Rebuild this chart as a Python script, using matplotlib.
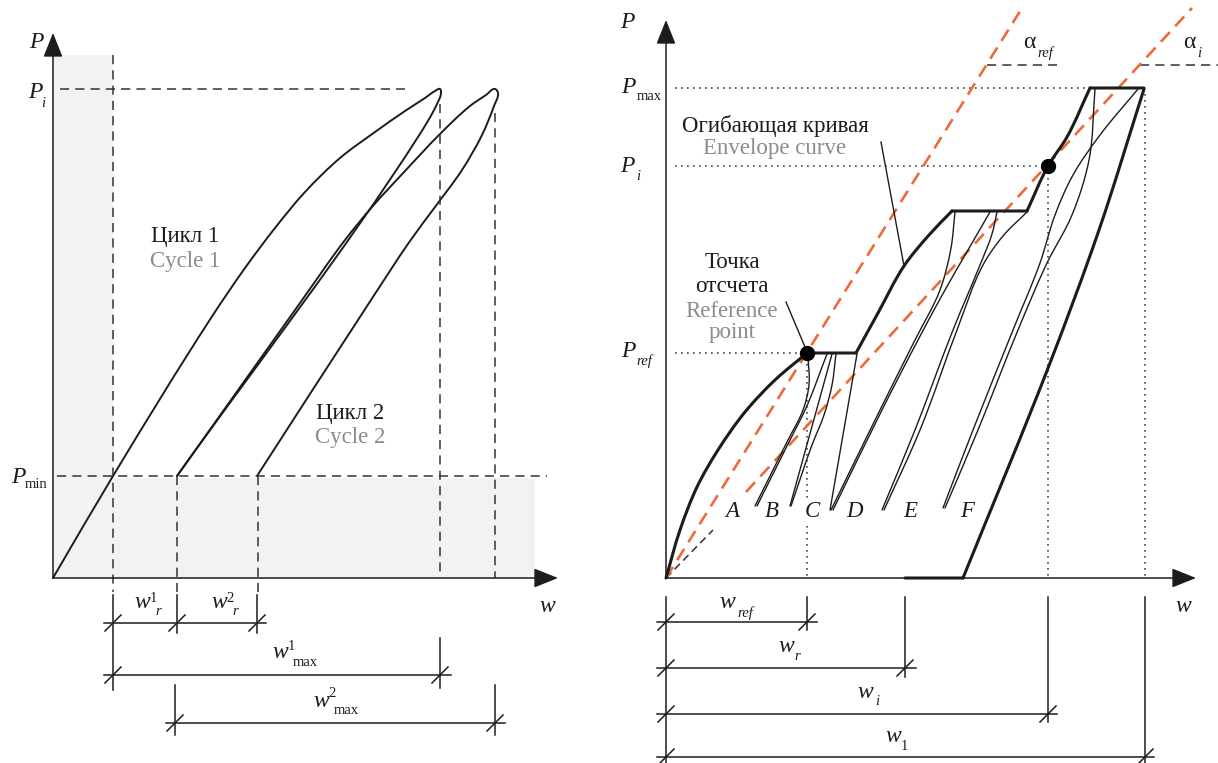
import numpy as np
import matplotlib
matplotlib.use("Agg")
import matplotlib.pyplot as plt
from matplotlib.path import Path
from matplotlib.patches import PathPatch, Rectangle

# ---------------- data (pixel-space schematic coordinates) ----------------
# Left panel
L_origin = (53, 578)
L_yaxis_tip = (53, 33)
L_xaxis_tip = (558, 578)
cycle1 = [(53, 578), (113, 476), (211, 318), (245, 268), (275, 228), (305, 192),
          (340, 158), (375, 132), (405, 111), (425, 98), (435, 91), (440, 89),
          (441, 93), (437, 104), (418, 137), (177, 476)]
cycle2 = [(177, 476), (300, 303), (345, 240), (372, 207), (405, 171), (440, 134),
          (470, 106), (486, 95), (495, 89), (498, 93), (494, 106), (482, 135),
          (462, 170), (435, 207), (410, 241), (371, 300), (257, 476)]
L_dash_h = [((60, 89), (405, 89)), ((57, 476), (547, 476))]
L_dash_v = [((113, 55), (113, 592)), ((177, 476), (177, 592)), ((258, 476), (258, 592)),
            ((440, 104), (440, 578)), ((495, 113), (495, 578))]
L_shade = [(53, 55, 60, 523), (53, 478, 482, 100)]   # x, y, w, h
L_ext = [(113, 595, 690), (177, 595, 633), (257, 595, 633), (440, 638, 688),
         (175, 685, 735), (495, 685, 735)]
L_dims = [(104, 266, 623, [113, 177, 257]), (104, 451, 675, [113, 440]),
          (166, 505, 723, [175, 495])]

# Right panel
R_origin = (666, 578)
R_yaxis_tip = (666, 20)
R_xaxis_tip = (1196, 578)
envelope1 = [(666, 578), (680, 530), (697, 487), (718, 450), (745, 412), (775, 380),
             (807, 353)]
plateau1 = [(807, 353), (856, 353)]
envelope2 = [(856, 353), (878, 313), (904, 266), (929, 235), (952, 211)]
plateau2 = [(952, 211), (1027, 211)]
envelope3 = [(1027, 211), (1048, 166), (1067, 137), (1090, 88)]
plateau3 = [(1090, 88), (1144, 88)]
final_unload = [(1144, 89), (1099, 230), (1050, 363), (963, 578)]
residual = [(905, 578), (963, 578)]
thin_loops = {
    "B1": [(755, 506), (788, 440), (803, 410), (809, 385), (808, 356)],
    "B2": [(757, 506), (790, 440), (806, 408), (827, 354)],
    "C1": [(790, 506), (832, 354)],
    "C2": [(836, 354), (832, 385), (824, 415), (812, 445), (791, 506)],
    "D1": [(857, 354), (830, 510)],
    "Da": [(831, 510), (880, 410), (915, 340), (940, 290), (951, 248), (955, 212)],
    "Db": [(833, 510), (882, 410), (918, 340), (945, 290), (968, 250), (990, 212)],
    "Ea": [(882, 510), (915, 430), (953, 330), (980, 265), (992, 234), (997, 212)],
    "Eb": [(884, 510), (920, 430), (957, 330), (983, 265), (1003, 236), (1027, 212)],
    "Fa": [(945, 508), (978, 430), (1018, 330), (1047, 263), (1072, 215),
           (1089, 160), (1095, 89)],
    "Fb": [(943, 508), (973, 430), (1013, 330), (1040, 263), (1055, 215),
           (1073, 175), (1100, 135), (1138, 89)],
}
ref_point = (807, 353)
i_point = (1048, 166)
orange_ref = [(666, 578), (1022, 8)]
orange_i = [(746, 492), (1192, 8)]
black_dash_i = [(666, 578), (713, 530)]
alpha_lines = [((987, 65), (1057, 65)), ((1140, 65), (1218, 65))]
R_dot_h = [((675, 88), (1090, 88)), ((675, 166), (1042, 166)), ((675, 353), (800, 353))]
R_dot_v = [((807, 358), (807, 578)), ((1048, 172), (1048, 578)), ((1145, 94), (1145, 578))]
leaders = [((881, 142), (904, 266)), ((786, 302), (805, 347))]
R_ext = [(666, 597, 763), (807, 597, 630), (905, 597, 677), (1048, 597, 722),
         (1145, 597, 763)]
R_dims = [(657, 817, 622, [666, 807]), (657, 916, 668, [666, 905]),
          (657, 1057, 714, [666, 1048]), (657, 1154, 757, [666, 1145])]
point_letters = ["A", "B", "C", "D", "E", "F"]
point_letter_x = [732, 772, 812, 855, 910, 967]

# ---------------- styles ----------------
INK = "#1c1c1c"
DASHC = "#333333"
GRAYT = "#8c8c8c"
SHADE = "#f2f2f2"
ORANGE = "#ef6a3a"
SERIF = "Liberation Serif"

fig = plt.figure(figsize=(12.18, 7.63), dpi=100)
ax = fig.add_axes([0, 0, 1, 1])
ax.set_xlim(0, 1218)
ax.set_ylim(763, 0)
ax.axis("off")


def smooth(pts, **kw):
    """Smooth curve through the given points (cubic Bezier pieces)."""
    p = np.asarray(pts, float)
    n = len(p)
    tan = []
    for i in range(n):
        if i == 0:
            d = p[1] - p[0]
        elif i == n - 1:
            d = p[-1] - p[-2]
        else:
            a = p[i] - p[i - 1]
            b = p[i + 1] - p[i]
            d = a / np.hypot(*a) + b / np.hypot(*b)
        tan.append(d / np.hypot(*d))
    verts = [p[0]]
    codes = [Path.MOVETO]
    for i in range(n - 1):
        L = np.hypot(*(p[i + 1] - p[i])) / 3.0
        verts += [p[i] + tan[i] * L, p[i + 1] - tan[i + 1] * L, p[i + 1]]
        codes += [Path.CURVE4] * 3
    ax.add_patch(PathPatch(Path(verts, codes), fill=False, capstyle="round",
                           joinstyle="round", **kw))


def seg(a, b, **kw):
    ax.plot([a[0], b[0]], [a[1], b[1]], **kw)


def arrow(a, b):
    ax.annotate("", xy=b, xytext=a,
                arrowprops=dict(arrowstyle="-|>,head_length=0.75,head_width=0.3",
                                lw=1.1, color=INK, mutation_scale=20,
                                shrinkA=0, shrinkB=0))


def txt(x, y, s, size=17, style="italic", color=INK, ha="center", **kw):
    ax.text(x, y, s, fontsize=size, fontstyle=style, family=SERIF, color=color,
            ha=ha, va="baseline", **kw)


def dims(ext, rows):
    for x, y0, y1 in ext:
        seg((x, y0), (x, y1), color=INK, lw=1.1)
    for x0, x1, y, ticks in rows:
        seg((x0, y), (x1, y), color=INK, lw=1.1)
        for t in ticks:
            seg((t - 8, y + 8), (t + 8, y - 8), color=INK, lw=1.1)


dash_kw = dict(color=DASHC, lw=1.1, dashes=(6, 4))
dot_kw = dict(color="#444444", lw=1.2, dashes=(1, 2.6))

# ---------------- left panel ----------------
for x, y, w, h in L_shade:
    ax.add_patch(Rectangle((x, y), w, h, facecolor=SHADE, edgecolor="none", zorder=0))
for a, b in L_dash_h + L_dash_v:
    seg(a, b, **dash_kw)
smooth(cycle1, color=INK, lw=1.4)
smooth(cycle2, color=INK, lw=1.4)
arrow(L_origin, L_yaxis_tip)
arrow(L_origin, L_xaxis_tip)
dims(L_ext, L_dims)

txt(36, 48, "P")
txt(35, 98, "P"); txt(43, 107, "i", size=10.5)
txt(18, 483, "P"); txt(36, 488, "min", size=10.5, style="normal")
txt(547, 612, "w")
txt(142, 608, "w"); txt(153, 602, "1", size=10.5, style="normal"); txt(158, 615, "r", size=10.5)
txt(219, 608, "w"); txt(230, 602, "2", size=10.5, style="normal"); txt(235, 615, "r", size=10.5)
txt(280, 658, "w"); txt(291, 650, "1", size=10.5, style="normal"); txt(305, 666, "max", size=10.5, style="normal")
txt(321, 707, "w"); txt(332, 697, "2", size=10.5, style="normal"); txt(346, 714, "max", size=10.5, style="normal")
txt(185, 242, "Цикл 1", size=16.5, style="normal")
txt(185, 267, "Cycle 1", size=16.5, style="normal", color=GRAYT)
txt(350, 419, "Цикл 2", size=16.5, style="normal")
txt(350, 443, "Cycle 2", size=16.5, style="normal", color=GRAYT)

# ---------------- right panel ----------------
for a, b in R_dot_h + R_dot_v:
    seg(a, b, **dot_kw)
for a, b in alpha_lines:
    seg(a, b, **dash_kw)
seg(*black_dash_i, color=DASHC, lw=1.1, dashes=(5, 3))
seg(*orange_ref, color=ORANGE, lw=1.9, dashes=(5, 3), zorder=3)
seg(*orange_i, color=ORANGE, lw=1.9, dashes=(5, 3), zorder=3)
for k, pts in thin_loops.items():
    smooth(pts, color=INK, lw=1.0, zorder=4)
for pts in (envelope1, plateau1, envelope2, plateau2, envelope3, plateau3,
            final_unload, residual):
    smooth(pts, color=INK, lw=2.2, zorder=5)
for a, b in leaders:
    seg(a, b, color=INK, lw=1.0, zorder=5)
for p in (ref_point, i_point):
    ax.plot(*p, "o", ms=10, color="black", zorder=6)
arrow(R_origin, R_yaxis_tip)
arrow(R_origin, R_xaxis_tip)
dims(R_ext, R_dims)

for s, x in zip(point_letters, point_letter_x):
    txt(x, 517, s, size=16.5,
        bbox=dict(facecolor="white", edgecolor="none", pad=1.5), zorder=7)

txt(627, 28, "P")
txt(628, 93, "P"); txt(649, 100, "max", size=10.5, style="normal")
txt(627, 172, "P"); txt(638, 180, "i", size=10.5)
txt(628, 357, "P"); txt(644, 365, "ref", size=10.5)
txt(1029, 48, "α", style="normal"); txt(1045, 57, "ref", size=10.5)
txt(1189, 48, "α", style="normal"); txt(1199, 57, "i", size=10.5)
txt(1183, 612, "w")
txt(727, 608, "w"); txt(745, 617, "ref", size=10.5)
txt(786, 652, "w"); txt(797, 660, "r", size=10.5)
txt(865, 698, "w"); txt(877, 705, "i", size=10.5)
txt(893, 742, "w"); txt(904, 750, "1", size=10.5, style="normal")

txt(775, 132, "Огибающая кривая", size=16.5, style="normal")
txt(775, 154, "Envelope curve", size=16.5, style="normal", color=GRAYT)
txt(732, 268, "Точка", size=16.5, style="normal")
txt(732, 292, "отсчета", size=16.5, style="normal")
txt(732, 317, "Reference", size=16.5, style="normal", color=GRAYT)
txt(732, 338, "point", size=16.5, style="normal", color=GRAYT)

fig.savefig("out.png", dpi=100)
